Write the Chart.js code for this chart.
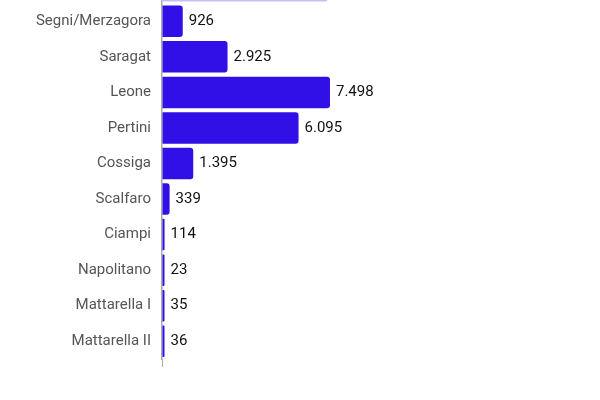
<!DOCTYPE html>
<html>
<head>
<meta charset="utf-8">
<script src="https://cdn.jsdelivr.net/npm/chart.js@4"></script>
<style>
  html, body { margin: 0; padding: 0; background: #fff; overflow: hidden; }
  body { width: 600px; height: 400px; position: relative; }
  #wrap { position: absolute; left: 0; top: -44px; width: 600px; height: 415px; }
  #note { position: absolute; left: 85px; top: 399.5px; font: 14px/14px Roboto, sans-serif; color: #999; white-space: nowrap; }
</style>
</head>
<body>
<div id="wrap"><canvas id="chart"></canvas></div>
<div id="note">Fonte: elaborazione dati del Ministero della Giustizia, gli atti di clemenza dal 1948</div>
<script>
const labels = ['Gronchi', 'Segni/Merzagora', 'Saragat', 'Leone', 'Pertini', 'Cossiga', 'Scalfaro', 'Ciampi', 'Napolitano', 'Mattarella I', 'Mattarella II'];
const values = [7400, 926, 2925, 7498, 6095, 1395, 339, 114, 23, 35, 36];
const barColors = ['#c6bdfb', '#3010e6', '#3010e6', '#3010e6', '#3010e6', '#3010e6', '#3010e6', '#3010e6', '#3010e6', '#3010e6', '#3010e6'];

const fmt = v => v.toLocaleString('it-IT');

const valueLabels = {
  id: 'valueLabels',
  afterDatasetsDraw(chart) {
    const ctx = chart.ctx;
    const meta = chart.getDatasetMeta(0);
    ctx.save();
    ctx.font = '15px Roboto, sans-serif';
    ctx.fillStyle = '#111';
    ctx.textAlign = 'left';
    ctx.textBaseline = 'middle';
    meta.data.forEach((bar, i) => {
      ctx.fillText(fmt(values[i]), bar.x + 6, bar.y);
    });
    ctx.restore();
  }
};

new Chart(document.getElementById('chart'), {
  type: 'bar',
  data: {
    labels: labels,
    datasets: [{
      data: values,
      backgroundColor: barColors,
      borderRadius: 3,
      borderSkipped: 'start',
      categoryPercentage: 1,
      barPercentage: 0.886,
      minBarLength: 2.5
    }]
  },
  options: {
    indexAxis: 'y',
    responsive: true,
    maintainAspectRatio: false,
    animation: false,
    layout: { padding: 0 },
    plugins: { legend: { display: false }, tooltip: { enabled: false } },
    scales: {
      x: {
        min: 0,
        max: 19550,
        ticks: { display: false, stepSize: 100000 },
        border: { display: false },
        grid: {
          drawOnChartArea: false,
          drawTicks: true,
          tickLength: 8,
          color: ctx => ctx.tick && ctx.tick.value === 0 ? '#aaa' : 'rgba(0,0,0,0)'
        }
      },
      y: {
        afterFit: s => { s.width = 162; },
        border: { display: true, color: '#aaa', width: 1.5 },
        grid: { display: false },
        ticks: {
          padding: 3,
          color: '#555',
          font: { family: 'Roboto', size: 15 }
        }
      }
    }
  },
  plugins: [valueLabels]
});
</script>
</body>
</html>
